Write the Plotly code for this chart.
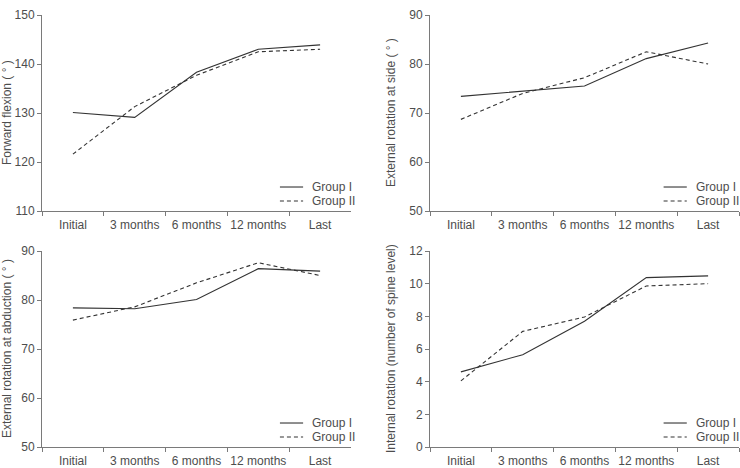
import plotly.graph_objects as go

categories = ["Initial", "3 months", "6 months", "12 months", "Last"]

flex_g1 = [130.1, 129.1, 138.3, 143.0, 143.9]
flex_g2 = [121.6, 131.3, 137.7, 142.5, 143.0]

side_g1 = [73.4, 74.5, 75.5, 81.1, 84.3]
side_g2 = [68.7, 74.0, 77.2, 82.5, 80.0]

abd_g1 = [78.4, 78.2, 80.1, 86.4, 85.9]
abd_g2 = [75.9, 78.6, 83.5, 87.6, 85.0]

ir_g1 = [4.6, 5.65, 7.7, 10.37, 10.48]
ir_g2 = [4.05, 7.08, 7.96, 9.86, 10.0]

series_names = ["Group I", "Group II"]
y_titles = ["Forward flexion ( ° )", "External rotation at side ( ° )",
            "External rotation at abduction ( ° )", "Internal rotation (number of spine level)"]
y_ranges = [[110, 150], [50, 90], [50, 90], [0, 12]]
y_dticks = [10, 10, 10, 2]

W, H = 740, 468
FONT = "Liberation Sans, Arial, sans-serif"
TXT = "#4d4d4d"
AX = "#7a7a7a"
LINE = "#333333"
DASH = "4px,3px"

panels = [
    (flex_g1, flex_g2, (42, 351), (15, 211)),
    (side_g1, side_g2, (430, 739), (15, 211)),
    (abd_g1, abd_g2, (42, 351), (251, 447)),
    (ir_g1, ir_g2, (430, 739), (251, 447)),
]
title_x = [7, 391, 7, 391]
legend_shift = [0.0, 0.014, 0.0, 0.014]

fig = go.Figure()
layout = dict(width=W, height=H, margin=dict(l=0, r=0, t=0, b=0),
              paper_bgcolor="white", plot_bgcolor="white", showlegend=False,
              font=dict(family=FONT, size=12, color=TXT),
              annotations=[], shapes=[])

for i, (g1, g2, (x0, x1), (y0, y1)) in enumerate(panels):
    n = i + 1
    sfx = "" if n == 1 else str(n)
    fig.add_trace(go.Scatter(x=categories, y=g1, mode="lines", name=series_names[0],
                             line=dict(color=LINE, width=1.1),
                             xaxis=f"x{sfx}", yaxis=f"y{sfx}"))
    fig.add_trace(go.Scatter(x=categories, y=g2, mode="lines", name=series_names[1],
                             line=dict(color=LINE, width=1.1, dash=DASH),
                             xaxis=f"x{sfx}", yaxis=f"y{sfx}"))
    layout[f"xaxis{sfx}"] = dict(domain=[x0 / W, x1 / W], anchor=f"y{sfx}",
                                 type="category", range=[-0.5, 4.5],
                                 showline=True, linecolor=AX, linewidth=1,
                                 ticks="outside", ticklen=4, tickcolor=AX,
                                 tickson="boundaries", showgrid=False,
                                 zeroline=False, tickangle=0, automargin=False,
                                 ticklabelstandoff=3,
                                 tickfont=dict(size=12, color=TXT))
    layout[f"yaxis{sfx}"] = dict(domain=[1 - y1 / H, 1 - y0 / H], anchor=f"x{sfx}",
                                 range=y_ranges[i], dtick=y_dticks[i],
                                 showline=True, linecolor=AX, linewidth=1,
                                 ticks="outside", ticklen=4, tickcolor=AX,
                                 showgrid=False, zeroline=False, automargin=False,
                                 tickfont=dict(size=12, color=TXT))
    # y-axis title
    layout["annotations"].append(dict(
        text=y_titles[i], textangle=-90, xref="paper", yref="paper",
        x=title_x[i] / W, y=1 - ((y0 + y1) / 2) / H, xanchor="center",
        yanchor="middle", showarrow=False, font=dict(size=12, color=TXT)))
    # legend (line samples + labels), in axis-domain coordinates
    xr, yr = f"x{sfx} domain", f"y{sfx} domain"
    s = legend_shift[i]
    for k, (ly, dash) in enumerate([(0.1224, None), (0.051, DASH)]):
        shp = dict(type="line", xref=xr, yref=yr, x0=0.770 - s, x1=0.845 - s,
                   y0=ly, y1=ly, line=dict(color=LINE, width=1.1))
        if dash:
            shp["line"]["dash"] = dash
        layout["shapes"].append(shp)
        layout["annotations"].append(dict(
            text=series_names[k], xref=xr, yref=yr, x=0.867 - s, y=ly,
            xanchor="left", yanchor="middle", showarrow=False,
            font=dict(size=12, color=TXT)))

fig.update_layout(**layout)
fig.write_html("out.html")
